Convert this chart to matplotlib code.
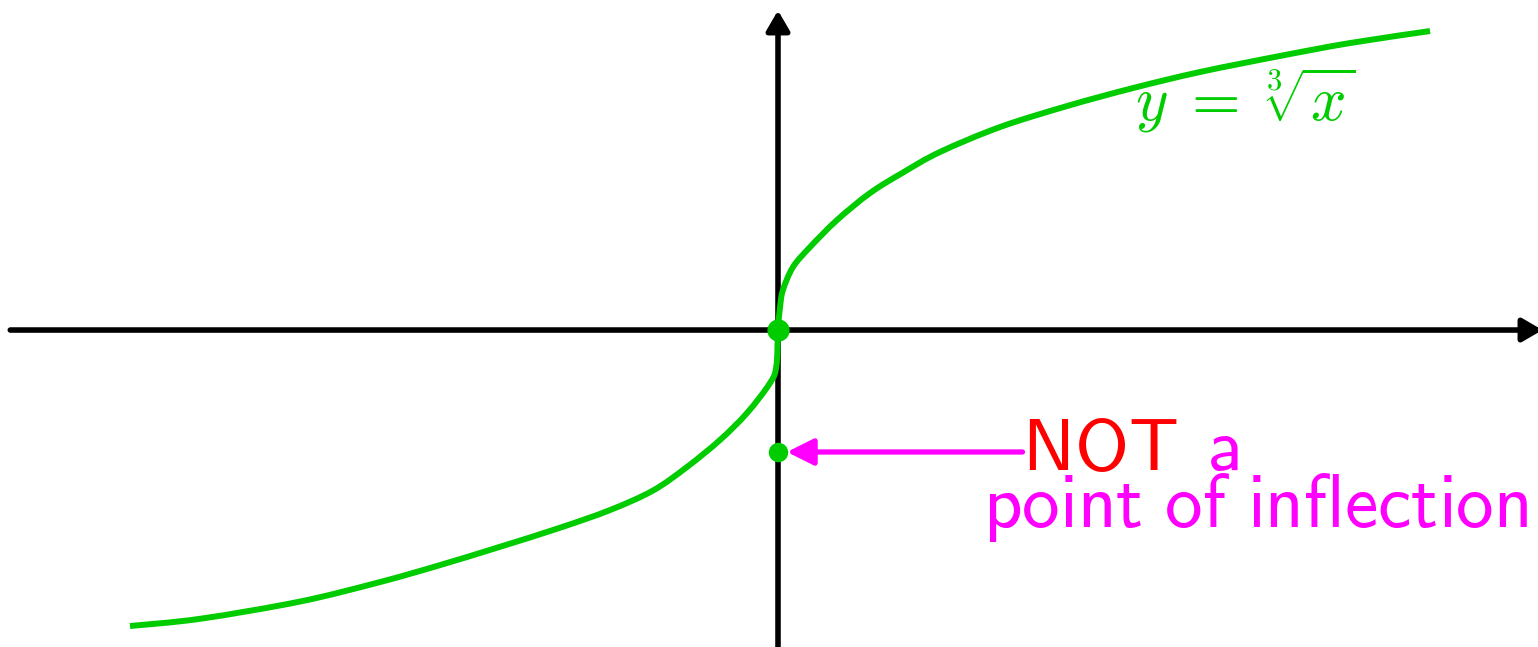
import numpy as np
import matplotlib
matplotlib.use("Agg")
from matplotlib import pyplot as plt
from matplotlib.path import Path
from matplotlib.patches import PathPatch

plt.rcParams['mathtext.fontset'] = 'cm'

GREEN = '#00cc00'
MAGENTA = '#ff00ff'
RED = '#ff0000'

# points of the curve (x in [-8, 8], y in [-2, 2])
curve_x = [-7.951, -7.092, -5.865, -4.883, -4.147, -3.411, -2.675, -2.061,
           -1.534, -1.117, -0.712, -0.38, -0.098, -0.02, 0.0,
           0.025, 0.061, 0.184, 0.393, 0.724, 1.129, 1.534, 1.988, 2.724,
           3.546, 4.356, 5.178, 6.16, 7.018, 8.0]
curve_y = [-1.973, -1.925, -1.81, -1.68, -1.567, -1.445, -1.318, -1.2,
           -1.07, -0.913, -0.733, -0.553, -0.353, -0.24, 0.0,
           0.153, 0.267, 0.42, 0.553, 0.733, 0.913, 1.05, 1.187, 1.353,
           1.493, 1.613, 1.72, 1.827, 1.913, 1.993]

origin = (0.0, 0.0)
marked = (0.0, -0.813)


def smooth_path(xs, ys):
    # catmull-rom through the read points, drawn as cubic beziers
    p = np.column_stack([xs, ys])
    p = np.vstack([p[0], p, p[-1]])
    verts = [p[1]]
    codes = [Path.MOVETO]
    for i in range(1, len(p) - 2):
        c1 = p[i] + (p[i + 1] - p[i - 1]) / 6
        c2 = p[i + 1] - (p[i + 2] - p[i]) / 6
        verts += [c1, c2, p[i + 1]]
        codes += [Path.CURVE4] * 3
    return Path(verts, codes)


fig = plt.figure(figsize=(15.38, 6.47), dpi=100)
ax = fig.add_axes([0, 0, 1, 1])
ax.set_xlim(-9.546, 9.325)
ax.set_ylim(-2.113, 2.2)
ax.axis('off')

# axes with arrow heads
axis_style = dict(arrowstyle='-|>,head_length=0.6,head_width=0.35',
                  lw=4.0, color='k', shrinkA=0, shrinkB=0, mutation_scale=20)
ax.annotate('', xy=(9.38, 0), xytext=(-9.42, 0), arrowprops=axis_style,
            annotation_clip=False)
ax.annotate('', xy=(0, 2.13), xytext=(0, -2.2), arrowprops=axis_style,
            annotation_clip=False)

ax.add_patch(PathPatch(smooth_path(curve_x, curve_y), fill=False,
                       edgecolor=GREEN, lw=4.3, capstyle='butt', zorder=3))
ax.plot(*origin, 'o', color=GREEN, ms=15, zorder=4)
ax.plot(*marked, 'o', color=GREEN, ms=13, zorder=4)

ax.text(4.38, 1.4, r'$y\;=\;\sqrt[3]{x}$', color=GREEN, fontsize=45,
        ha='left', va='baseline')

# pointer to the marked point
ax.annotate('', xy=(0.11, -0.813), xytext=(3.0, -0.813),
            arrowprops=dict(arrowstyle='-|>,head_length=0.8,head_width=0.4',
                            lw=3.8, color=MAGENTA, shrinkA=0, shrinkB=0,
                            mutation_scale=20))
ax.text(2.99, -0.933, r'$\mathsf{NOT}$', color=RED, fontsize=53,
        ha='left', va='baseline')
ax.text(5.26, -0.933, r'$\mathsf{a}$', color=MAGENTA, fontsize=53,
        ha='left', va='baseline')
ax.text(2.52, -1.313, r'$\mathsf{point\ of\ inflection}$', color=MAGENTA,
        fontsize=54, ha='left', va='baseline')

fig.savefig('out.png', dpi=100)
